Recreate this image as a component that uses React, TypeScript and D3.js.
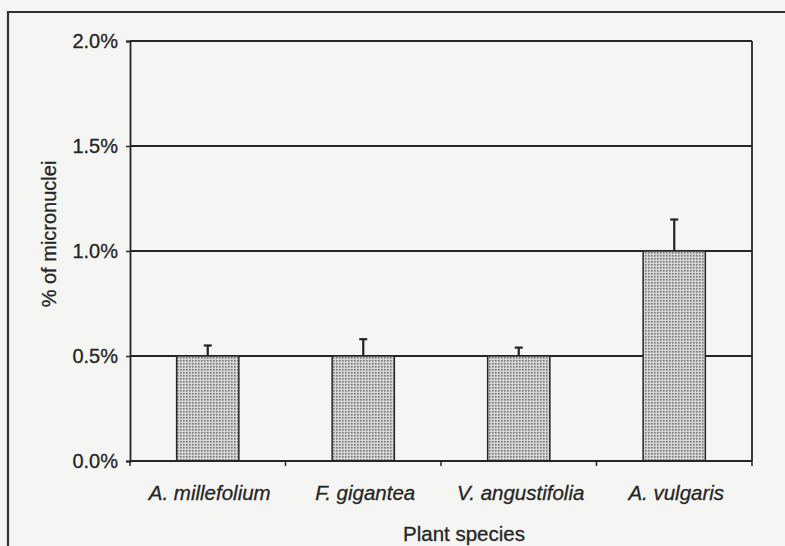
import { useEffect, useRef } from "react";
import * as d3 from "d3";

const species = ["A. millefolium", "F. gigantea", "V. angustifolia", "A. vulgaris"];
const micronuclei = [0.5, 0.5, 0.5, 1.0];
const errors = [0.05, 0.08, 0.04, 0.15];
const yTicks = [0, 0.5, 1.0, 1.5, 2.0];

const App: React.FC = () => {
  const svgRef = useRef<SVGSVGElement>(null);

  useEffect(() => {
    const svg = d3.select(svgRef.current);
    svg.selectAll("*").remove();

    const width = 785;
    const height = 546;
    const margin = { top: 41, right: 33, bottom: 85, left: 130 };
    const ink = "#262626";
    const line = "#262626";
    const font = "'Liberation Sans', Arial, sans-serif";

    svg.append("rect").attr("width", width).attr("height", height).attr("fill", "#f5f5f3");

    // stipple fill for the bars
    const pat = svg.append("defs").append("pattern")
      .attr("id", "dots").attr("width", 3).attr("height", 3).attr("patternUnits", "userSpaceOnUse");
    pat.append("rect").attr("width", 3).attr("height", 3).attr("fill", "#d6d6d6");
    pat.append("rect").attr("x", 0).attr("y", 0).attr("width", 1.6).attr("height", 1.6).attr("fill", "#777");

    // outer chart frame (runs off the right and bottom edges)
    svg.append("path").attr("d", `M8,${height + 2}V12H${width + 2}`)
      .attr("fill", "none").attr("stroke", "#333").attr("stroke-width", 2.2);

    const x = d3.scaleBand().domain(species).range([margin.left, width - margin.right]).paddingInner(0.6).paddingOuter(0.3);
    const y = d3.scaleLinear().domain([0, 2]).range([height - margin.bottom, margin.top]);
    const x0 = margin.left;
    const x1 = width - margin.right;

    // gridlines
    svg.append("g").selectAll("line").data(yTicks.slice(1)).join("line")
      .attr("x1", x0).attr("x2", x1).attr("y1", (d) => y(d)).attr("y2", (d) => y(d))
      .attr("stroke", line).attr("stroke-width", 1.8);
    // right border of plot
    svg.append("line").attr("x1", x1).attr("x2", x1).attr("y1", y(2)).attr("y2", y(0))
      .attr("stroke", line).attr("stroke-width", 1.8);

    // bars
    svg.append("g").selectAll("rect").data(micronuclei).join("rect")
      .attr("x", (_, i) => x(species[i]) as number)
      .attr("y", (d) => y(d))
      .attr("width", x.bandwidth())
      .attr("height", (d) => y(0) - y(d))
      .attr("fill", "url(#dots)").attr("stroke", line).attr("stroke-width", 1.5);

    // error bars
    const eb = svg.append("g").attr("stroke", "#222").attr("stroke-width", 2.2);
    micronuclei.forEach((v, i) => {
      const cx = (x(species[i]) as number) + x.bandwidth() / 2;
      eb.append("line").attr("x1", cx).attr("x2", cx).attr("y1", y(v)).attr("y2", y(v + errors[i]));
      eb.append("line").attr("x1", cx - 4).attr("x2", cx + 4).attr("y1", y(v + errors[i])).attr("y2", y(v + errors[i]));
    });

    // y axis
    const yAxis = svg.append("g").attr("transform", `translate(${x0},0)`)
      .call(d3.axisLeft(y).tickValues(yTicks).tickSize(4).tickPadding(8).tickFormat((d) => `${(d as number).toFixed(1)}%`));
    yAxis.select(".domain").attr("stroke", line).attr("stroke-width", 1.8);
    yAxis.selectAll(".tick line").attr("stroke", line).attr("stroke-width", 1.5);
    yAxis.selectAll("text").attr("font-family", font).attr("font-size", 20).attr("fill", ink)
      .attr("stroke", ink).attr("stroke-width", 0.3);

    // x axis (ticks at category boundaries)
    const step = x.step();
    const bounds = d3.range(species.length + 1).map((i) => x0 + i * step);
    svg.append("line").attr("x1", x0).attr("x2", x1).attr("y1", y(0)).attr("y2", y(0))
      .attr("stroke", line).attr("stroke-width", 1.8);
    svg.append("g").selectAll("line").data(bounds).join("line")
      .attr("x1", (d) => d).attr("x2", (d) => d).attr("y1", y(0)).attr("y2", y(0) + 5)
      .attr("stroke", line).attr("stroke-width", 1.5);
    svg.append("g").selectAll("text").data(species).join("text")
      .attr("x", (d) => (x(d) as number) + x.bandwidth() / 2 + 2)
      .attr("y", 500)
      .attr("text-anchor", "middle").attr("font-family", font).attr("font-size", 20.5)
      .attr("font-style", "italic").attr("fill", ink).attr("stroke", ink).attr("stroke-width", 0.3)
      .text((d) => d);

    // axis titles
    svg.append("text").attr("x", 464).attr("y", 541).attr("text-anchor", "middle")
      .attr("font-family", font).attr("font-size", 20.5).attr("fill", ink)
      .attr("stroke", ink).attr("stroke-width", 0.3).text("Plant species");
    svg.append("text").attr("transform", "translate(56,234) rotate(-90)").attr("text-anchor", "middle")
      .attr("font-family", font).attr("font-size", 20).attr("fill", ink)
      .attr("stroke", ink).attr("stroke-width", 0.3).text("% of micronuclei");
  }, []);

  return <svg ref={svgRef} width={785} height={546} style={{ position: "absolute", left: 0, top: 0, display: "block" }}></svg>;
};

export default App;
